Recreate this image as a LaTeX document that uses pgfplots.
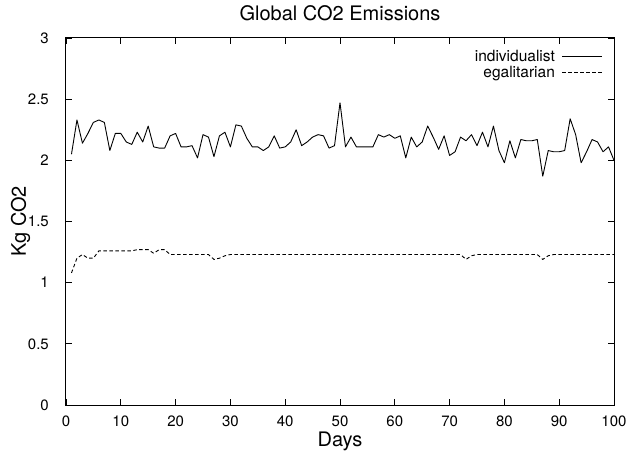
\documentclass[border=0pt]{standalone}
\usepackage{fontspec}
\setmainfont{TeX Gyre Heros}
\usepackage{pgfplots}
\usepackage{pgfplotstable}
\pgfplotsset{compat=1.18}

\pgfplotstableread{
day ind ega
1 2.05 1.08
2 2.33 1.20
3 2.14 1.23
4 2.22 1.20
5 2.31 1.20
6 2.33 1.26
7 2.31 1.26
8 2.08 1.26
9 2.22 1.26
10 2.22 1.26
11 2.15 1.26
12 2.13 1.26
13 2.23 1.27
14 2.15 1.27
15 2.28 1.27
16 2.11 1.24
17 2.10 1.27
18 2.10 1.27
19 2.20 1.23
20 2.22 1.23
21 2.11 1.23
22 2.11 1.23
23 2.12 1.23
24 2.02 1.23
25 2.21 1.23
26 2.19 1.23
27 2.03 1.19
28 2.20 1.20
29 2.23 1.22
30 2.11 1.23
31 2.29 1.23
32 2.28 1.23
33 2.18 1.23
34 2.11 1.23
35 2.11 1.23
36 2.08 1.23
37 2.11 1.23
38 2.20 1.23
39 2.10 1.23
40 2.11 1.23
41 2.15 1.23
42 2.25 1.23
43 2.12 1.23
44 2.15 1.23
45 2.19 1.23
46 2.21 1.23
47 2.20 1.23
48 2.10 1.23
49 2.12 1.23
50 2.47 1.23
51 2.11 1.23
52 2.19 1.23
53 2.11 1.23
54 2.11 1.23
55 2.11 1.23
56 2.11 1.23
57 2.21 1.23
58 2.19 1.23
59 2.21 1.23
60 2.18 1.23
61 2.20 1.23
62 2.02 1.23
63 2.19 1.23
64 2.11 1.23
65 2.15 1.23
66 2.28 1.23
67 2.19 1.23
68 2.09 1.23
69 2.20 1.23
70 2.04 1.23
71 2.07 1.23
72 2.19 1.23
73 2.16 1.19
74 2.21 1.22
75 2.12 1.23
76 2.23 1.23
77 2.11 1.23
78 2.28 1.23
79 2.08 1.23
80 1.98 1.23
81 2.16 1.23
82 2.02 1.23
83 2.17 1.23
84 2.16 1.23
85 2.16 1.23
86 2.17 1.23
87 1.87 1.19
88 2.08 1.22
89 2.07 1.23
90 2.07 1.23
91 2.08 1.23
92 2.34 1.23
93 2.21 1.23
94 1.98 1.23
95 2.07 1.23
96 2.17 1.23
97 2.15 1.23
98 2.07 1.23
99 2.11 1.23
100 2.00 1.23
}\emissions

\begin{document}
\begin{tikzpicture}
\begin{axis}[
  scale only axis, width=548pt, height=367pt,
  xmin=0, xmax=100, ymin=0, ymax=3,
  xtick distance=10, ytick distance=0.5,
  tick align=inside, major tick length=6pt,
  axis line style={line width=1pt},
  every tick/.style={black, line width=0.8pt},
  /pgf/number format/assume math mode=true,
  ticklabel style={font=\fontsize{15}{18}\selectfont, inner sep=0pt},
  xticklabel style={anchor=base, yshift=-21pt},
  yticklabel style={anchor=east, xshift=-17pt},
  title={Global CO2 Emissions},
  title style={font=\fontsize{20}{24}\selectfont, at={(axis description cs:0.5,1)}, anchor=base, yshift=11pt},
  xlabel={Days},
  xlabel style={font=\fontsize{20}{24}\selectfont, at={(axis description cs:0.5,-0.1144)}, anchor=base},
  ylabel={Kg CO2},
  ylabel style={font=\fontsize{20}{24}\selectfont, at={(axis description cs:-0.073,0.5)}, anchor=base},
  legend plot pos=right,
  legend cell align=right,
  legend style={draw=none, fill=none, font=\fontsize{15.5}{17}\selectfont,
    at={(axis description cs:1,1)}, anchor=north east, xshift=-11pt, yshift=-10pt,
    row sep=-1pt, inner sep=0pt},
  legend image code/.code={\path (0pt,0pt); \draw[#1] (5pt,0pt) -- (45pt,0pt);},
]
\addplot[black, line width=0.9pt, line join=round] table[x=day, y=ind] {\emissions};
\addlegendentry{individualist}
\addplot[black, line width=0.9pt, dash pattern=on 3.5pt off 2.5pt] table[x=day, y=ega] {\emissions};
\addlegendentry{egalitarian}
\end{axis}
\pgfresetboundingbox
\useasboundingbox (-66pt,-50pt) rectangle (563pt,405pt);
\end{tikzpicture}
\end{document}
